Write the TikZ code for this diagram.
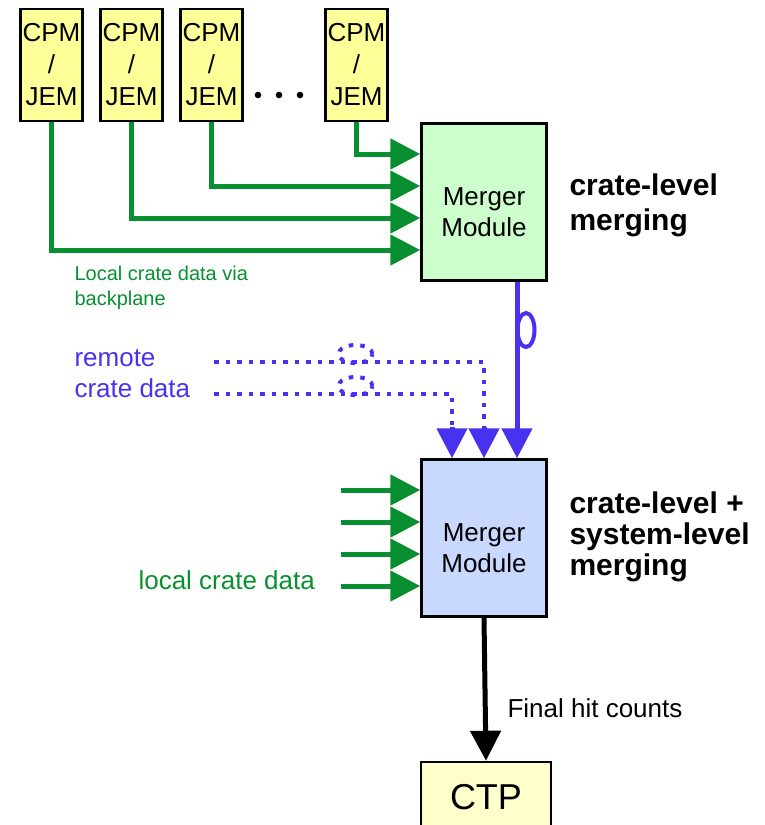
\documentclass[tikz,border=0pt]{standalone}
\usepackage{fontspec}
\setmainfont{Liberation Sans}
\usetikzlibrary{arrows.meta, positioning, calc}

\begin{document}
\begin{tikzpicture}[x=1pt, y=-1pt,
    cpm/.style={rectangle, draw=black, line width=2.5pt, fill=cpmcolor, minimum width=62pt, minimum height=112pt, inner sep=0pt, align=center, font=\fontsize{26}{32}\selectfont},
    merger/.style={rectangle, draw=black, line width=2.5pt, minimum width=125pt, minimum height=157pt, inner sep=0pt, align=center, font=\fontsize{26}{31}\selectfont},
    garrow/.style={-{Triangle[length=30pt, width=30pt]}, line width=5pt, draw=linegreen},
    barrow/.style={-{Triangle[length=30pt, width=30pt]}, line width=5pt, draw=lineblue},
    bdots/.style={line width=4.5pt, draw=lineblue, dash pattern=on 4.5pt off 7pt},
    heading/.style={anchor=base west, align=left, font=\fontsize{30}{35}\selectfont\bfseries}
]

% Colors
\definecolor{cpmcolor}{RGB}{255, 255, 153}
\definecolor{ctpcolor}{RGB}{255, 255, 204}
\definecolor{topcolor}{RGB}{204, 255, 204}
\definecolor{botcolor}{RGB}{200, 216, 255}
\definecolor{linegreen}{RGB}{8, 144, 48}
\definecolor{lineblue}{RGB}{72, 50, 240}

\useasboundingbox (0,0) rectangle (765,825);

% CPM / JEM modules
\node[cpm] (cpm1) at (51.5,65) {CPM\\/\\JEM};
\node[cpm] (cpm2) at (131.5,65) {CPM\\/\\JEM};
\node[cpm] (cpm3) at (211.5,65) {CPM\\/\\JEM};
\node[cpm] (cpm4) at (356.5,65) {CPM\\/\\JEM};
\foreach \x in {258,279,300}
    \fill (\x,95) circle (3.3pt);

% Merger Modules
\node[merger, fill=topcolor] (mmtop) at (484,202) {\rule{0pt}{39pt}Merger\\Module};
\node[merger, fill=botcolor] (mmbot) at (484,538) {\rule{0pt}{39pt}Merger\\Module};

% CTP
\node[rectangle, draw=black, line width=2.5pt, fill=ctpcolor, minimum width=130pt, minimum height=70pt, font=\fontsize{36}{40}\selectfont] (ctp) at (486,797) {CTP\hspace{22pt}};

% Labels (base = last line)
\node[heading] (lvl1) at (566,230) {crate-level\\merging};
\node[heading, font=\fontsize{30}{31}\selectfont\bfseries] (lvl2) at (566,575) {crate-level +\\system-level\\merging};

% backplane inputs to the upper module
\coordinate (in1) at ($(mmtop.west)+(0,-48)$);
\coordinate (in2) at ($(mmtop.west)+(0,-16)$);
\coordinate (in3) at ($(mmtop.west)+(0,16)$);
\coordinate (in4) at ($(mmtop.west)+(0,48)$);
\draw[garrow] (cpm4.south) |- (in1);
\draw[garrow] (cpm3.south) |- (in2);
\draw[garrow] (cpm2.south) |- (in3);
\draw[garrow] (cpm1.south) |- (in4);
\node[anchor=base west, align=left, text=linegreen, font=\fontsize{20}{25}\selectfont] (bplabel) at (71,305) {Local crate data via\\backplane};

% local inputs to the lower module
\foreach \dy [count=\i] in {-48,-16,16,48} {
    \coordinate (loc\i) at ($(mmbot.west)+(0,\dy)$);
    \draw[garrow] ($(loc\i)+(-79,0)$) -- (loc\i);
}
\node[anchor=base west, text=linegreen, font=\fontsize{26}{31}\selectfont] (loclabel) at (135,589) {local crate data};

% links into the lower module
\coordinate (b1) at ($(mmbot.north)+(-32,0)$);
\coordinate (b2) at ($(mmbot.north)+(0,0)$);
\coordinate (b3) at ($(mmbot.north)+(33,0)$);
\draw[barrow] (mmtop.south -| b3) -- (b3);
\draw[lineblue, line width=4pt] (526,330) ellipse [x radius=8.5pt, y radius=17pt];

\coordinate (rem1) at (214,362);
\coordinate (rem2) at (214,394);
\draw[bdots] (rem1) -| ($(b2)+(0,-30)$);
\draw[bdots] (rem2) -| ($(b1)+(0,-30)$);
\draw[barrow] ($(b2)+(0,-31)$) -- (b2);
\draw[barrow] ($(b1)+(0,-31)$) -- (b1);
\draw[bdots, line width=4pt] (355.5,354) ellipse [x radius=17pt, y radius=9pt];
\draw[bdots, line width=4pt] (355.5,386) ellipse [x radius=17pt, y radius=9pt];
\node[anchor=base west, align=left, text=lineblue, font=\fontsize{26}{31}\selectfont] (remlabel) at (71,397) {remote\\crate data};

% output to CTP
\draw[-{Triangle[length=30pt, width=30pt]}, line width=5pt] (mmbot.south) -- (ctp.north);
\node[anchor=base west, font=\fontsize{26}{31}\selectfont] (hitlabel) at (504,717) {Final hit counts};

\end{tikzpicture}
\end{document}
